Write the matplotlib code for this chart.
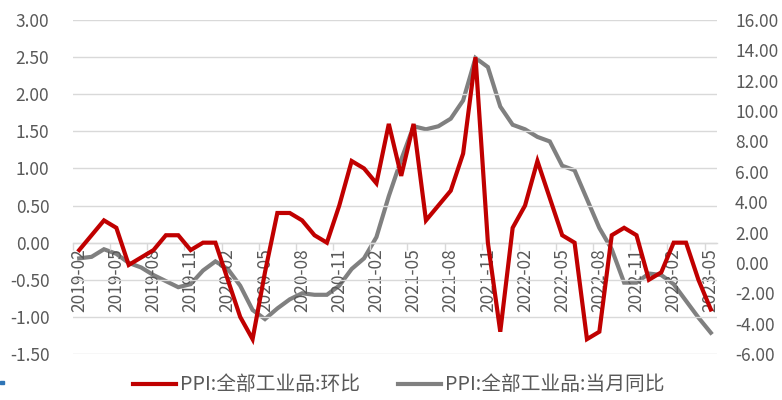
import matplotlib
matplotlib.use("Agg")
import matplotlib.pyplot as plt
from matplotlib.patches import Rectangle
import numpy as np

plt.rcParams['font.family'] = ['Noto Sans CJK SC', 'DejaVu Sans']

months = ["2019-02","2019-03","2019-04","2019-05","2019-06","2019-07","2019-08","2019-09",
          "2019-10","2019-11","2019-12","2020-01","2020-02","2020-03","2020-04","2020-05",
          "2020-06","2020-07","2020-08","2020-09","2020-10","2020-11","2020-12","2021-01",
          "2021-02","2021-03","2021-04","2021-05","2021-06","2021-07","2021-08","2021-09",
          "2021-10","2021-11","2021-12","2022-01","2022-02","2022-03","2022-04","2022-05",
          "2022-06","2022-07","2022-08","2022-09","2022-10","2022-11","2022-12","2023-01",
          "2023-02","2023-03","2023-04","2023-05"]

ppi_mom = [-0.1, 0.1, 0.3, 0.2, -0.3, -0.2, -0.1, 0.1, 0.1, -0.1, 0.0, 0.0,
           -0.5, -1.0, -1.3, -0.4, 0.4, 0.4, 0.3, 0.1, 0.0, 0.5, 1.1, 1.0,
           0.8, 1.6, 0.9, 1.6, 0.3, 0.5, 0.7, 1.2, 2.5, 0.0, -1.2, 0.2,
           0.5, 1.1, 0.6, 0.1, 0.0, -1.3, -1.2, 0.1, 0.2, 0.1, -0.5, -0.4,
           0.0, 0.0, -0.5, -0.9]

ppi_yoy = [0.3, 0.4, 0.9, 0.6, 0.0, -0.3, -0.8, -1.2, -1.6, -1.4, -0.5, 0.1,
           -0.4, -1.5, -3.1, -3.7, -3.0, -2.4, -2.0, -2.1, -2.1, -1.5, -0.4, 0.3,
           1.7, 4.4, 6.8, 9.0, 8.8, 9.0, 9.5, 10.7, 13.5, 12.9, 10.3, 9.1,
           8.8, 8.3, 8.0, 6.4, 6.1, 4.2, 2.3, 0.9, -1.3, -1.3, -0.7, -0.8,
           -1.4, -2.5, -3.6, -4.6]

label_mom = "PPI:全部工业品:环比"
label_yoy = "PPI:全部工业品:当月同比"

left_ticks = [3.0, 2.5, 2.0, 1.5, 1.0, 0.5, 0.0, -0.5, -1.0, -1.5]
right_ticks = [16, 14, 12, 10, 8, 6, 4, 2, 0, -2, -4, -6]

red = "#C00000"
gray = "#808080"
txt = "#595959"
grid = "#D9D9D9"
fs = 12.5
lfs = 14.2

fig = plt.figure(figsize=(7.82, 4.0), dpi=100)
ax = fig.add_axes([73/782, 1-354/400, (717-73)/782, (354-20)/400])
ax2 = ax.twinx()

x = np.arange(len(months))
ax.plot(x, ppi_mom, color=red, lw=3.0, zorder=3, solid_joinstyle='miter')
ax2.plot(x, ppi_yoy, color=gray, lw=3.0, zorder=2, solid_joinstyle='miter')

ax.set_zorder(ax2.get_zorder() + 1)
ax.patch.set_visible(False)

ax.set_xlim(-0.5, len(months) - 0.5)
ax.set_ylim(-1.5, 3.0)
ax2.set_ylim(-6, 16)

ax.set_yticks(left_ticks)
ax.set_yticklabels([f"{v:.2f}" for v in left_ticks])
ax2.set_yticks(right_ticks)
ax2.set_yticklabels([f"{v:.2f}" for v in right_ticks])

ax.tick_params(axis='y', length=0, pad=17, labelsize=fs, labelcolor=txt)
ax2.tick_params(axis='y', length=0, pad=13, labelsize=fs, labelcolor=txt)

ax.yaxis.grid(True, color=grid, lw=1.0)
ax.set_axisbelow(True)

for a in (ax, ax2):
    for s in a.spines.values():
        s.set_visible(False)

ax.spines['bottom'].set_visible(True)
ax.spines['bottom'].set_position(('data', 0))
ax.spines['bottom'].set_color(grid)
ax.spines['bottom'].set_linewidth(1.0)

major = x[::3]
ax.set_xticks(major)
ax.set_xticklabels([months[i] for i in major], rotation=90)
ax.set_xticks(np.arange(-0.5, len(months), 3), minor=True)
ax.tick_params(axis='x', which='major', length=0, pad=4, labelsize=fs, labelcolor=txt)
ax.tick_params(axis='x', which='minor', length=5, width=1.0, color=grid, direction='out')

h1, = ax.plot([], [], color=red, lw=3.0)
h2, = ax.plot([], [], color=gray, lw=3.0)
common = dict(loc='center left', frameon=False, fontsize=lfs, labelcolor=txt,
              handlelength=2.2, handletextpad=0.18, borderpad=0, borderaxespad=0)
fig.legend([h1], [label_mom], bbox_to_anchor=(133/782, 1-385/400), **common)
fig.legend([h2], [label_yoy], bbox_to_anchor=(398/782, 1-385/400), **common)

fig.patches.append(Rectangle((0, 1-384/400), 4/782, 3/400, transform=fig.transFigure,
                             color="#2E75B6", zorder=5))

fig.savefig("out.png", dpi=100)
